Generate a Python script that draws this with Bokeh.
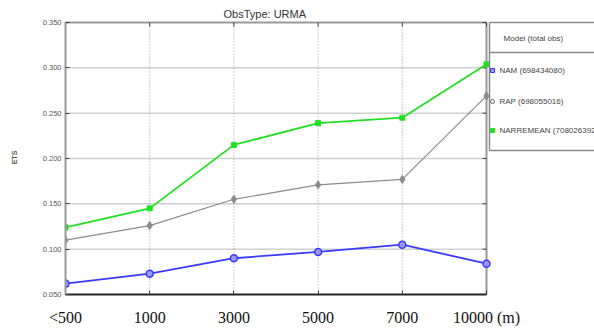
from bokeh.plotting import figure
from bokeh.models import Range1d, FixedTicker
from bokeh.embed import file_html
from bokeh.resources import INLINE

categories = ["<500", "1000", "3000", "5000", "7000", "10000 (m)"]
nam = [0.062, 0.073, 0.090, 0.097, 0.105, 0.084]
rap = [0.110, 0.126, 0.155, 0.171, 0.177, 0.269]
narremean = [0.124, 0.145, 0.215, 0.239, 0.245, 0.304]
y_ticks = [0.05, 0.10, 0.15, 0.20, 0.25, 0.30, 0.35]
y_tick_labels = ["0.050", "0.100", "0.150", "0.200", "0.250", "0.300", "0.350"]
models = ["NAM", "RAP", "NARREMEAN"]
totals = ["698434080", "698055016", "708026392"]
title_text = "ObsType: URMA"
legend_title = "Model  (total obs)"
y_label = "ETS"

colors = ["#3b3bff", "#8c8c8c", "#22e022"]
xs = list(range(len(categories)))
x_last = len(categories) - 1

# page layout (pixels)
W, H = 594, 329
left_px, right_px, top_px, bottom_px = 65, 486, 22, 294
frame_top = 20
y0, y1 = y_ticks[0], y_ticks[-1]
y_per_px = (y1 - y0) / (bottom_px - top_px)
x_end = x_last * (W - left_px) / (right_px - left_px)

p = figure(width=W, height=H, x_range=Range1d(0, x_end),
           y_range=Range1d(y0, y1 + (top_px - frame_top) * y_per_px),
           output_backend="svg", toolbar_location=None, title=title_text,
           min_border_left=left_px, min_border_right=0, min_border_top=frame_top,
           min_border_bottom=H - bottom_px)
p.extra_x_ranges = {"px": Range1d(left_px, W)}
p.extra_y_ranges = {"py": Range1d(bottom_px, frame_top)}

p.title.align = "left"
p.title.offset = 158
p.title.standoff = 2
p.title.text_font = "Liberation Sans"
p.title.text_font_size = "11px"
p.title.text_font_style = "normal"
p.title.text_color = "#333333"
p.outline_line_color = None
p.background_fill_color = "white"
p.border_fill_color = "white"
p.grid.visible = False

p.yaxis.ticker = FixedTicker(ticks=y_ticks)
p.yaxis.major_label_overrides = {t: l for t, l in zip(y_ticks, y_tick_labels)}
p.yaxis.bounds = (y0, y1)
p.xaxis.ticker = FixedTicker(ticks=xs)
p.xaxis.major_label_overrides = {i: c for i, c in enumerate(categories)}
p.xaxis.bounds = (0, x_last)

p.yaxis.axis_line_color = "#9a9a9a"
p.yaxis.axis_line_width = 2
p.yaxis.major_tick_in = 4
p.yaxis.major_tick_out = 0
p.yaxis.major_tick_line_color = "#444444"
p.yaxis.minor_tick_line_color = None
p.yaxis.major_label_text_font = "Liberation Sans"
p.yaxis.major_label_text_font_size = "7.5px"
p.yaxis.major_label_text_color = "#555555"
p.yaxis.major_label_standoff = 4
p.yaxis.axis_label = y_label
p.yaxis.axis_label_text_font_size = "7px"
p.yaxis.axis_label_text_font_style = "bold"
p.yaxis.axis_label_text_color = "#555555"
p.yaxis.axis_label_standoff = 22

p.xaxis.axis_line_color = "#222222"
p.xaxis.axis_line_width = 2
p.xaxis.major_tick_in = 4
p.xaxis.major_tick_out = 0
p.xaxis.major_tick_line_color = "#444444"
p.xaxis.minor_tick_line_color = None
p.xaxis.major_label_text_font = "Liberation Serif"
p.xaxis.major_label_text_font_size = "16px"
p.xaxis.major_label_text_color = "#111111"
p.xaxis.major_label_standoff = 14

# grid lines within the data area only
inner_y = y_ticks[1:-1]
p.segment(x0=[0] * len(inner_y), y0=inner_y, x1=[x_last] * len(inner_y), y1=inner_y,
          line_color="#cfcfcf", line_width=1.5)
inner_x = xs[1:-1]
p.segment(x0=inner_x, y0=[y0] * len(inner_x), x1=inner_x, y1=[y1] * len(inner_x),
          line_color="#9a9a9a", line_dash="1 2", line_width=1)
# top and right borders of the axes box
p.segment(x0=[0, x_last], y0=[y1, y0], x1=[x_last, x_last], y1=[y1, y1],
          line_color="#9a9a9a", line_width=2)
# inner ticks on right and top borders
tick_dx = 4 / (right_px - left_px) * x_last
tick_dy = 4 * y_per_px
p.segment(x0=[x_last] * len(y_ticks), y0=y_ticks, x1=[x_last - tick_dx] * len(y_ticks), y1=y_ticks,
          line_color="#444444", line_width=1)
p.segment(x0=xs, y0=[y1] * len(xs), x1=xs, y1=[y1 - tick_dy] * len(xs),
          line_color="#444444", line_width=1)

p.line(xs, rap, line_color=colors[1], line_width=1.2)
p.scatter(xs, rap, marker="diamond", size=8, fill_color=colors[1], line_color=colors[1])
p.line(xs, nam, line_color=colors[0], line_width=1.8)
p.scatter(xs, nam, marker="circle", size=7, fill_color="#9a9aff", line_color=colors[0], line_width=1.5)
p.line(xs, narremean, line_color=colors[2], line_width=1.8)
p.scatter(xs, narremean, marker="square", size=5, fill_color=colors[2], line_color=colors[2])

# legend box (pixel coordinates via extra ranges)
lx = 489
p.segment(x0=[lx, lx, lx, lx], y0=[22, 52, 150, 22], x1=[W, W, W, lx], y1=[22, 52, 150, 150],
          line_color="#8a8a8a", line_width=1.5, x_range_name="px", y_range_name="py")
p.text(x=[534], y=[38], text=[legend_title], text_align="center", text_baseline="middle",
       text_font_size="8px", text_color="#444444", x_range_name="px", y_range_name="py")
ly = [70, 101, 130]
p.scatter([lx + 3], [ly[0]], marker="square", size=4, fill_color="#9a9aff", line_color=colors[0],
          x_range_name="px", y_range_name="py")
p.scatter([lx + 3], [ly[1]], marker="circle", size=4, fill_color=None, line_color="#666666",
          x_range_name="px", y_range_name="py")
p.scatter([lx + 3], [ly[2]], marker="square", size=4, fill_color=colors[2], line_color=colors[2],
          x_range_name="px", y_range_name="py")
p.text(x=[lx + 10] * 3, y=ly, text=[f"{m} ({t})" for m, t in zip(models, totals)],
       text_align="left", text_baseline="middle", text_font_size="8px", text_color="#444444",
       x_range_name="px", y_range_name="py")

open("out.html", "w").write(file_html(p, INLINE))
